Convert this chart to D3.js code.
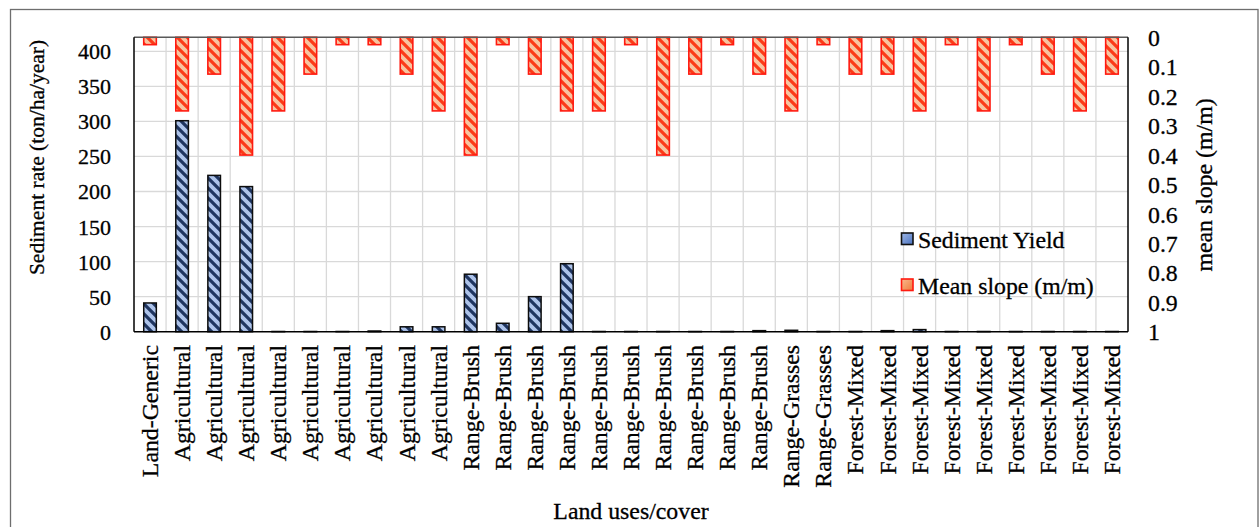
<!DOCTYPE html>
<html>
<head>
<meta charset="utf-8">
<script src="https://cdn.jsdelivr.net/npm/d3@7"></script>
<style>
  body { margin: 0; background: #fff; }
  svg { display: block; }
  svg text { font-family: "Liberation Serif", Tinos, "Times New Roman", Times, "DejaVu Serif", serif; stroke: #000; stroke-width: 0.3px; }
</style>
</head>
<body>
<svg id="chart" width="1259" height="527"></svg>
<script>
// Land use / cover class of each sub-basin
const categories = [
  "Land-Generic",
  "Agricultural", "Agricultural", "Agricultural", "Agricultural", "Agricultural",
  "Agricultural", "Agricultural", "Agricultural", "Agricultural",
  "Range-Brush", "Range-Brush", "Range-Brush", "Range-Brush", "Range-Brush",
  "Range-Brush", "Range-Brush", "Range-Brush", "Range-Brush", "Range-Brush",
  "Range-Grasses", "Range-Grasses",
  "Forest-Mixed", "Forest-Mixed", "Forest-Mixed", "Forest-Mixed", "Forest-Mixed",
  "Forest-Mixed", "Forest-Mixed", "Forest-Mixed", "Forest-Mixed"
];

// Sediment yield (ton/ha/year), left axis
const sedimentYield = [
  41,
  301, 223, 207, 0.3, 0.3, 0.3, 1, 7, 7,
  82, 12, 50, 97, 0.3, 0.3, 0.3, 0.3, 0.3, 1.5,
  2, 0.3,
  0.3, 1.5, 3, 0.3, 0.3, 0.3, 0.3, 0.3, 0.3
];

// Mean slope (m/m), right axis (reversed)
const meanSlope = [
  0.025,
  0.25, 0.125, 0.4, 0.25, 0.125, 0.025, 0.025, 0.125, 0.25,
  0.4, 0.025, 0.125, 0.25, 0.25, 0.025, 0.4, 0.125, 0.025, 0.125,
  0.25, 0.025,
  0.125, 0.125, 0.25, 0.025, 0.25, 0.025, 0.125, 0.25, 0.125
];

const leftTicks = [0, 50, 100, 150, 200, 250, 300, 350, 400];
const rightTicks = [0, 0.1, 0.2, 0.3, 0.4, 0.5, 0.6, 0.7, 0.8, 0.9, 1];

const FONT = '"Liberation Serif", Tinos, "Times New Roman", Times, "DejaVu Serif", serif';
const FS = 23.8;

const svg = d3.select("#chart");

const plot = { left: 134, right: 1128, top: 37.3, bottom: 331.7 };

const x = d3.scaleBand()
  .domain(d3.range(categories.length))
  .range([plot.left, plot.right])
  .padding(0);

const yLeft = d3.scaleLinear().domain([0, 420]).range([plot.bottom, plot.top]);
const yRight = d3.scaleLinear().domain([0, 1]).range([plot.top, plot.bottom]);

// Hatch fills
const defs = svg.append("defs");
function hatch(id, bg, fg, size, sw) {
  const p = defs.append("pattern")
    .attr("id", id)
    .attr("patternUnits", "userSpaceOnUse")
    .attr("width", size).attr("height", size);
  p.append("rect").attr("width", size).attr("height", size).attr("fill", bg);
  p.append("path")
    .attr("d", `M${-size / 2},${-size / 2} L${size * 1.5},${size * 1.5} M${-size / 2},${size / 2} L${size / 2},${size * 1.5} M${size / 2},${-size / 2} L${size * 1.5},${size / 2}`)
    .attr("stroke", fg).attr("stroke-width", sw);
}
hatch("hatchBlue", "#adc3ea", "#1f3560", 10, 3.2);
hatch("hatchOrange", "#f8c4a0", "#fb3b18", 10, 3.2);

const swBlue = defs.append("linearGradient").attr("id", "swBlue").attr("x1", 0).attr("y1", 0).attr("x2", 1).attr("y2", 1);
swBlue.append("stop").attr("offset", 0).attr("stop-color", "#9fb8e6");
swBlue.append("stop").attr("offset", 1).attr("stop-color", "#4a72c0");
const swOrange = defs.append("linearGradient").attr("id", "swOrange").attr("x1", 0).attr("y1", 0).attr("x2", 1).attr("y2", 1);
swOrange.append("stop").attr("offset", 0).attr("stop-color", "#f9b98e");
swOrange.append("stop").attr("offset", 1).attr("stop-color", "#ef7a3c");

// Outer chart frame
svg.append("rect")
  .attr("x", 10.5).attr("y", 9.5)
  .attr("width", 1247.5).attr("height", 600)
  .attr("fill", "none").attr("stroke", "#6e6e6e").attr("stroke-width", 1.3);

// Gridlines
const grid = svg.append("g").attr("stroke", "#d9d9d9").attr("stroke-width", 1.3);
grid.selectAll("line.h")
  .data(leftTicks.filter(t => t > 0))
  .join("line")
  .attr("x1", plot.left).attr("x2", plot.right)
  .attr("y1", d => yLeft(d)).attr("y2", d => yLeft(d));
grid.selectAll("line.v")
  .data(d3.range(1, categories.length))
  .join("line")
  .attr("x1", d => x(d)).attr("x2", d => x(d))
  .attr("y1", plot.top).attr("y2", plot.bottom);

const barW = 12.6;
const barX = i => x(i) + (x.bandwidth() - barW) / 2;

// Mean slope bars hanging from the reversed right axis
svg.append("g").selectAll("rect")
  .data(meanSlope)
  .join("rect")
  .attr("x", (d, i) => barX(i))
  .attr("y", yRight(0))
  .attr("width", barW)
  .attr("height", d => yRight(d) - yRight(0))
  .attr("fill", "url(#hatchOrange)")
  .attr("stroke", "#ff1a10").attr("stroke-width", 1.6);

// Sediment yield bars
svg.append("g").selectAll("rect")
  .data(sedimentYield)
  .join("rect")
  .attr("x", (d, i) => barX(i))
  .attr("y", d => yLeft(d))
  .attr("width", barW)
  .attr("height", d => yLeft(0) - yLeft(d))
  .attr("fill", "url(#hatchBlue)")
  .attr("stroke", "#0d0d0d").attr("stroke-width", 1.5);

// Plot frame
svg.append("line").attr("x1", plot.left).attr("x2", plot.right)
  .attr("y1", plot.top).attr("y2", plot.top)
  .attr("stroke", "#595959").attr("stroke-width", 1.5);
svg.append("line").attr("x1", plot.left).attr("x2", plot.right)
  .attr("y1", plot.bottom).attr("y2", plot.bottom)
  .attr("stroke", "#000").attr("stroke-width", 1.5);
svg.append("line").attr("x1", plot.left).attr("x2", plot.left)
  .attr("y1", plot.top).attr("y2", plot.bottom)
  .attr("stroke", "#000").attr("stroke-width", 1.5);
svg.append("line").attr("x1", plot.right).attr("x2", plot.right)
  .attr("y1", plot.top).attr("y2", plot.bottom)
  .attr("stroke", "#000").attr("stroke-width", 1.5);

// Left axis
const gLeft = svg.append("g")
  .attr("transform", `translate(${plot.left},0)`)
  .call(d3.axisLeft(yLeft).tickValues(leftTicks).tickSize(0).tickPadding(23).tickFormat(d3.format("d")));
gLeft.attr("font-family", FONT);
gLeft.select(".domain").remove();
gLeft.selectAll("text")
  .attr("font-size", 22).attr("fill", "#000").attr("dy", "0.34em");

// Right axis
const gRight = svg.append("g")
  .attr("transform", `translate(${plot.right},0)`)
  .call(d3.axisRight(yRight).tickValues(rightTicks).tickSize(0).tickPadding(20).tickFormat(d => String(d)));
gRight.attr("font-family", FONT);
gRight.select(".domain").remove();
gRight.selectAll("text")
  .attr("font-size", FS).attr("fill", "#000").attr("dy", "0.34em");

// Category axis
const gBottom = svg.append("g")
  .attr("transform", `translate(0,${plot.bottom})`)
  .call(d3.axisBottom(x).tickFormat(i => categories[i]).tickSize(0));
gBottom.attr("font-family", FONT);
gBottom.select(".domain").remove();
gBottom.selectAll("text")
  .attr("font-size", FS).attr("fill", "#000")
  .attr("text-anchor", "end")
  .attr("transform", "rotate(-90)")
  .attr("x", -13.3).attr("y", 8).attr("dy", 0);

// Axis titles
svg.append("text")
  .attr("transform", "translate(44,157.5) rotate(-90)")
  .attr("text-anchor", "middle")
  .attr("font-family", FONT)
  .attr("font-size", 21.5)
  .text("Sediment rate (ton/ha/year)");
svg.append("text")
  .attr("transform", "translate(1212,185) rotate(-90)")
  .attr("text-anchor", "middle")
  .attr("font-family", FONT)
  .attr("font-size", FS)
  .text("mean slope (m/m)");
svg.append("text")
  .attr("x", (plot.left + plot.right) / 2).attr("y", 519)
  .attr("text-anchor", "middle")
  .attr("font-family", FONT)
  .attr("font-size", FS)
  .text("Land uses/cover");

// Legend
const legendItems = [
  { label: "Sediment Yield", fill: "url(#swBlue)", stroke: "#111", y: 233 },
  { label: "Mean slope (m/m)", fill: "url(#swOrange)", stroke: "#ff1a10", y: 279 }
];
const lg = svg.append("g").attr("font-family", FONT);
lg.selectAll("rect")
  .data(legendItems)
  .join("rect")
  .attr("x", 901.5).attr("y", d => d.y)
  .attr("width", 11.5).attr("height", 11.5)
  .attr("fill", d => d.fill).attr("stroke", d => d.stroke).attr("stroke-width", 1.6);
lg.selectAll("text")
  .data(legendItems)
  .join("text")
  .attr("x", 918).attr("y", d => d.y + 15)
  .attr("font-size", FS)
  .text(d => d.label);
</script>
</body>
</html>
